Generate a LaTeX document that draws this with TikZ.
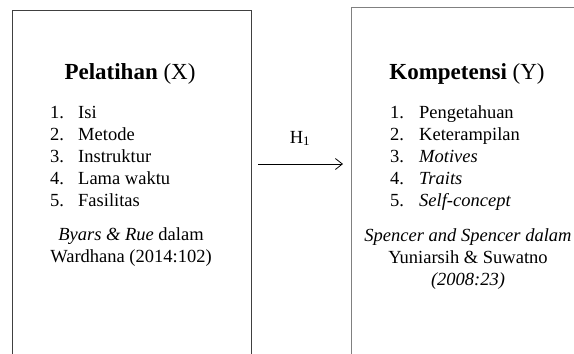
\documentclass[tikz,border=0pt]{standalone}
\usepackage{fontspec}
\setmainfont{Liberation Serif}
\usetikzlibrary{arrows.meta}
\tikzset{
  box/.style={draw, line width=1.2pt, minimum width=#1, minimum height=380pt, anchor=north west, inner sep=0pt},
  ttl/.style={anchor=base, inner sep=0pt, font=\fontsize{23}{27}\selectfont},
  txt/.style={anchor=base west, inner sep=0pt, font=\fontsize{18.5}{22}\selectfont},
  cite/.style={anchor=base, inner sep=0pt, font=\fontsize{18.5}{22}\selectfont},
  conn/.style={line width=0.8pt, -{Straight Barb[length=7pt,width=11pt]}}
}
\begin{document}
\begin{tikzpicture}[x=1pt,y=-1pt]
\useasboundingbox (0,0) rectangle (574,354);
\clip (0,0) rectangle (574,354);
\fill[white] (0,0) rectangle (574,354);
% boxes
\node[box=239pt, draw=black!75] (lbox) at (12,10) {};
\node[box=234pt, draw=black!50] (rbox) at (351,7) {};
% left content
\node[ttl] (ltitle) at (130,79) {\textbf{Pelatihan} (X)};
\node[txt] (ln1) at (50,118) {1.};
\node[txt] (ln2) at (50,140) {2.};
\node[txt] (ln3) at (50,162) {3.};
\node[txt] (ln4) at (50,184) {4.};
\node[txt] (ln5) at (50,206) {5.};
\node[txt] (li1) at (78,118) {Isi};
\node[txt] (li2) at (78,140) {Metode};
\node[txt] (li3) at (78,162) {Instruktur};
\node[txt] (li4) at (78,184) {Lama waktu};
\node[txt] (li5) at (78,206) {Fasilitas};
\node[cite] (lc1) at (131,240) {\textit{Byars \& Rue} dalam};
\node[cite] (lc2) at (131,262) {Wardhana (2014:102)};
% right content
\node[ttl] (rtitle) at (467,79) {\textbf{Kompetensi} (Y)};
\node[txt] (rn1) at (390,118) {1.};
\node[txt] (rn2) at (390,140) {2.};
\node[txt] (rn3) at (390,162) {3.};
\node[txt] (rn4) at (390,184) {4.};
\node[txt] (rn5) at (390,206) {5.};
\node[txt] (ri1) at (419,118) {Pengetahuan};
\node[txt] (ri2) at (419,140) {Keterampilan};
\node[txt] (ri3) at (419,162) {\textit{Motives}};
\node[txt] (ri4) at (419,184) {\textit{Traits}};
\node[txt] (ri5) at (419,206) {\textit{Self-concept}};
\node[cite] (rc1) at (468,241) {\textit{Spencer and Spencer dalam}};
\node[cite] (rc2) at (468,263) {Yuniarsih \& Suwatno};
\node[cite] (rc3) at (468,285) {\textit{(2008:23)}};
% arrow
\coordinate (a1) at (258,164);
\coordinate (a2) at (343,164);
\draw[conn] (a1) -- (a2);
\node[cite] (h1) at (300,143) {H\textsubscript{1}};
\end{tikzpicture}
\end{document}
